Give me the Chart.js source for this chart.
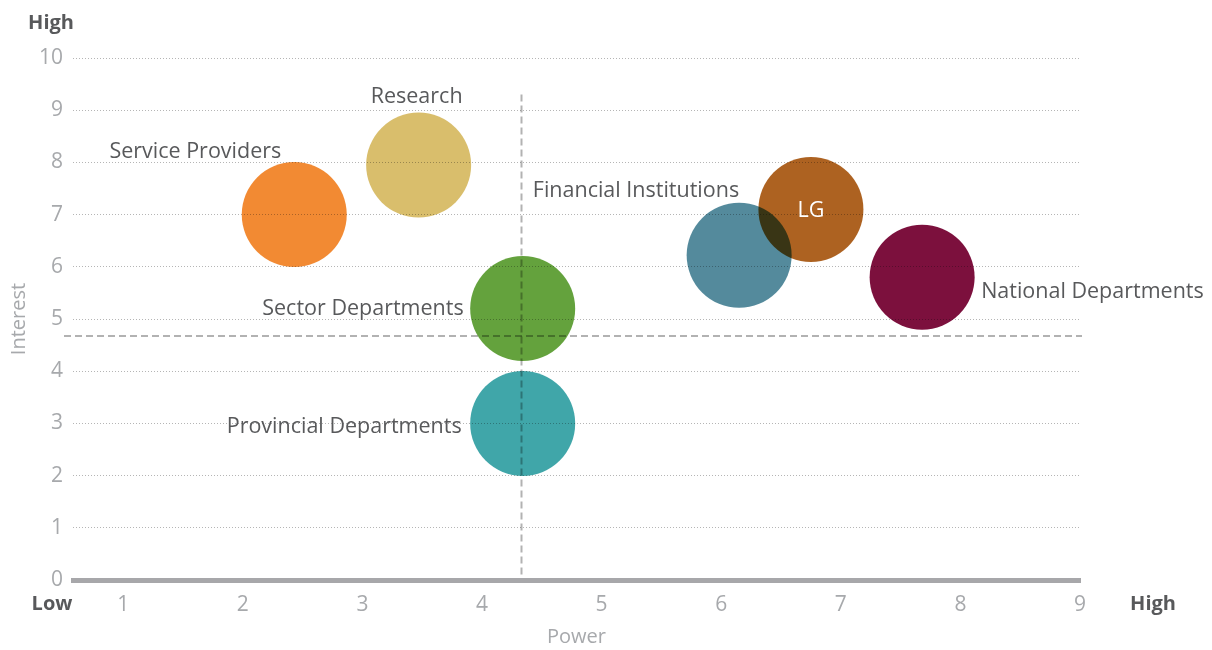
<!DOCTYPE html>
<html>
<head>
<meta charset="utf-8">
<title>Stakeholder map: power vs interest</title>
<script src="https://cdn.jsdelivr.net/npm/chart.js@4.4.1/dist/chart.umd.min.js"></script>
<style>
  html, body { margin: 0; padding: 0; background: #ffffff; }
  #wrap { width: 1212px; height: 650px; position: relative; }
</style>
</head>
<body>
<div id="wrap"><canvas id="chart" width="1212" height="650"></canvas></div>
<script>
// Stakeholders and their position on the power / interest grid
const stakeholders = ['Service Providers', 'Research', 'Sector Departments', 'Provincial Departments',
                      'Financial Institutions', 'LG', 'National Departments'];
const power    = [2.43, 3.47, 4.34, 4.34, 6.15, 6.75, 7.68];
const interest = [7.0, 7.95, 5.2, 3.0, 6.22, 7.1, 5.8];

// Quadrant divider values
const powerDivider = 4.33;
const interestDivider = 4.67;
const dividerTop = 9.3;

// Axis ticks
const powerTicks = [1, 2, 3, 4, 5, 6, 7, 8, 9];
const interestTicks = [0, 1, 2, 3, 4, 5, 6, 7, 8, 9, 10];

const colors = ['#F28A33', '#D9BE6C', '#64A23D', '#40A6A9', '#548A9C', '#AD6221', '#7C103D'];

const FONT = '"Open Sans", "Noto Sans", sans-serif';
const TEXT = '#58595B';
const MUTED = '#A7A9AC';

// Label placement relative to each bubble centre (pixels)
const labelPlacement = [
  { align: 'right',  dx: -13, dy: -63 },
  { align: 'center', dx: -2,  dy: -68 },
  { align: 'right',  dx: -59, dy: 0 },
  { align: 'right',  dx: -61, dy: 3 },
  { align: 'right',  dx: 0,   dy: -64 },
  { align: 'center', dx: 0,   dy: 1, color: '#FFFFFF' },
  { align: 'left',   dx: 59,  dy: 15 }
];

const points = stakeholders.map((name, i) => ({ x: power[i], y: interest[i] }));

// white page behind the plot so bubbles multiply onto white
const background = {
  id: 'background',
  beforeDraw(chart) {
    const ctx = chart.ctx;
    ctx.save();
    ctx.fillStyle = '#ffffff';
    ctx.fillRect(0, 0, chart.width, chart.height);
    ctx.restore();
  }
};

// overlapping bubbles darken each other
const multiplyBlend = {
  id: 'multiplyBlend',
  beforeDatasetsDraw(chart) {
    chart.ctx.save();
    chart.ctx.globalCompositeOperation = 'multiply';
  },
  afterDatasetsDraw(chart) {
    chart.ctx.restore();
  }
};

// quadrant dividers, bubble names and the Low/High axis ends
const annotations = {
  id: 'annotations',
  afterDatasetsDraw(chart) {
    const { ctx, scales: { x, y }, chartArea } = chart;
    ctx.save();

    // dashed dividers
    ctx.strokeStyle = 'rgba(0,0,0,0.3)';
    ctx.lineWidth = 2;
    ctx.setLineDash([7, 4]);
    const vx = Math.round(x.getPixelForValue(powerDivider)) + 0.5;
    ctx.beginPath();
    ctx.moveTo(vx, y.getPixelForValue(dividerTop));
    ctx.lineTo(vx, y.getPixelForValue(0) - 3);
    ctx.stroke();
    const hy = Math.round(y.getPixelForValue(interestDivider));
    ctx.beginPath();
    ctx.moveTo(chartArea.left - 9, hy);
    ctx.lineTo(chartArea.right + 2, hy);
    ctx.stroke();
    ctx.setLineDash([]);

    // bubble names
    ctx.font = '21.5px ' + FONT;
    ctx.textBaseline = 'middle';
    stakeholders.forEach((name, i) => {
      const p = labelPlacement[i];
      const px = x.getPixelForValue(power[i]) + p.dx;
      const py = y.getPixelForValue(interest[i]) + p.dy;
      ctx.fillStyle = p.color || TEXT;
      ctx.textAlign = p.align;
      ctx.fillText(name, px, py);
    });

    // axis ends
    ctx.font = 'bold 20px ' + FONT;
    ctx.fillStyle = TEXT;
    ctx.textAlign = 'center';
    ctx.textBaseline = 'alphabetic';
    ctx.fillText('High', 51, 29);
    ctx.fillText('Low', 52, 610);
    ctx.fillText('High', 1153, 610);
    ctx.restore();
  }
};

new Chart(document.getElementById('chart'), {
  type: 'bubble',
  data: {
    datasets: [{
      data: points,
      backgroundColor: colors,
      borderWidth: 0,
      radius: 52.5,
      hoverRadius: 0
    }]
  },
  options: {
    responsive: false,
    animation: false,
    events: [],
    layout: { padding: { left: 0, right: 132, top: 58, bottom: 0 } },
    plugins: {
      legend: { display: false },
      tooltip: { enabled: false }
    },
    scales: {
      x: {
        type: 'linear',
        min: 0.58,
        max: 9,
        afterBuildTicks(scale) { scale.ticks = powerTicks.map(v => ({ value: v })); },
        afterFit(scale) { scale.height = 70; },
        grid: { display: false, drawTicks: false },
        border: { display: true, color: '#A7A7AA', width: 5 },
        ticks: { color: MUTED, font: { family: FONT, size: 21 }, padding: 12 },
        title: { display: true, text: 'Power', color: MUTED, font: { family: FONT, size: 20 }, padding: { top: 0, bottom: 1 } }
      },
      y: {
        type: 'linear',
        min: 0,
        max: 10,
        afterBuildTicks(scale) { scale.ticks = interestTicks.map(v => ({ value: v })); },
        afterFit(scale) { scale.width = 73; },
        grid: {
          drawTicks: false,
          color: ctx => (ctx.tick && ctx.tick.value === 0) ? 'rgba(0,0,0,0)' : '#B5B5B5',
          lineWidth: 1
        },
        border: { display: false, dash: [1, 2] },
        ticks: { color: MUTED, font: { family: FONT, size: 21 }, padding: 10 },
        title: { display: true, text: 'Interest', color: MUTED, font: { family: FONT, size: 20 }, padding: { top: 7, bottom: 0 } }
      }
    }
  },
  plugins: [background, multiplyBlend, annotations]
});
</script>
</body>
</html>
